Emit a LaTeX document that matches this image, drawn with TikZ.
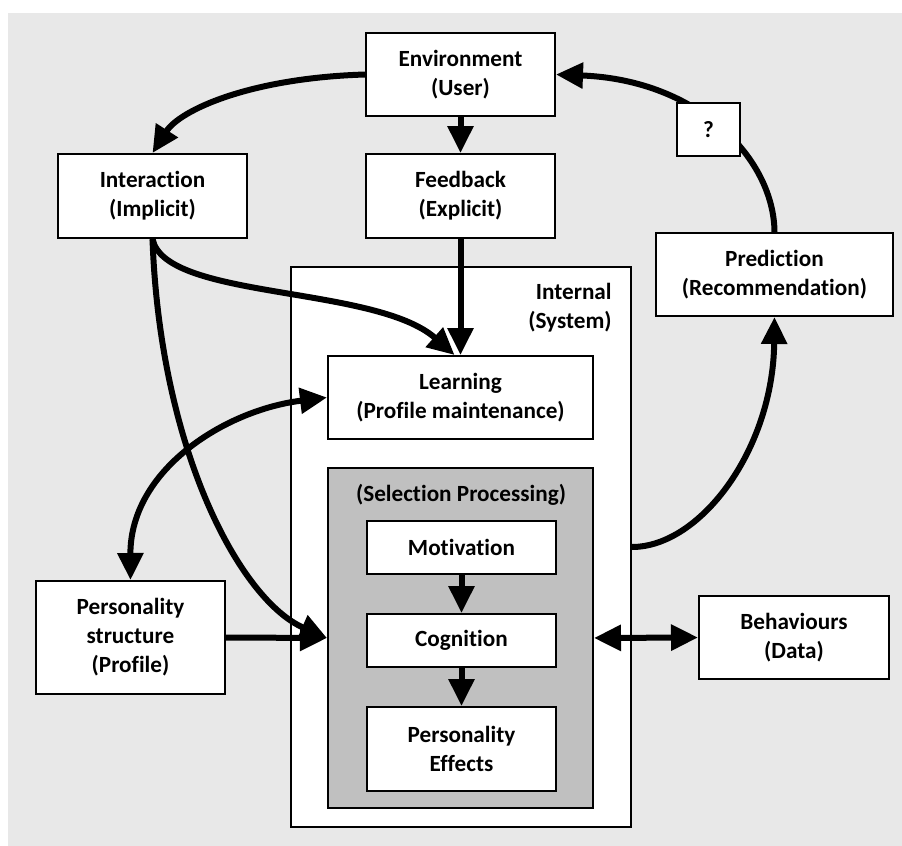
\documentclass[tikz,border=0pt]{standalone}
\usepackage{fontspec}
\setmainfont{Carlito}[Ligatures={NoCommon,NoContextual}]
\usetikzlibrary{arrows.meta}
\definecolor{panel}{HTML}{E8E8E8}
\definecolor{selgray}{HTML}{C0C0C0}
\tikzset{
  box/.style={draw=black, line width=1pt, fill=white, align=center,
    font=\fontsize{11.6}{14.5}\selectfont\bfseries, inner sep=0pt},
  link/.style={line width=3pt, -{Triangle[length=13.5pt,width=12.5pt]}},
  biglink/.style={line width=3pt, {Triangle[length=13.5pt,width=12.5pt]}-{Triangle[length=13.5pt,width=12.5pt]}},
  lbl/.style={font=\fontsize{11.6}{14.5}\selectfont\bfseries, inner sep=0pt, align=center}
}
\begin{document}
\begin{tikzpicture}[x=0.5pt,y=-0.5pt]
  \useasboundingbox (0,0) rectangle (902,846);
  \fill[white] (0,0) rectangle (902,846);
  \fill[panel] (8,13) rectangle (902,846);

  % outer system block and the selection processing block
  \node[box, line width=1pt, minimum width=170pt, minimum height=280pt] (internal) at (461,547) {};
  \node[lbl, anchor=east, align=right] (internallbl) at (612,308) {Internal\\(System)};
  \node[box, fill=selgray, minimum width=132.5pt, minimum height=170pt] (sel) at (460.5,638) {};
  \node[lbl] (sellbl) at (461,495) {(Selection Processing)};

  % boxes
  \node[box, minimum width=94.5pt, minimum height=41.5pt] (env) at (460.5,74.5) {Environment\\(User)};
  \node[box, minimum width=94.5pt, minimum height=42pt] (fb) at (460.5,196) {Feedback\\(Explicit)};
  \node[box, minimum width=94.5pt, minimum height=42pt] (inter) at (152.5,196) {Interaction\\(Implicit)};
  \node[box, minimum width=118.5pt, minimum height=41.5pt] (pred) at (774.5,274.5) {Prediction\\(Recommendation)};
  \node[box, minimum width=132.5pt, minimum height=41.5pt] (learn) at (460.5,397.5) {Learning\\(Profile maintenance)};
  \node[box, minimum width=94.5pt, minimum height=26.5pt] (motiv) at (461.5,547.5) {Motivation};
  \node[box, minimum width=94.5pt, minimum height=26.5pt] (cog) at (461.5,640.5) {Cognition};
  \node[box, minimum width=94.5pt, minimum height=42pt] (peff) at (461.5,749) {Personality\\Effects};
  \node[box, minimum width=94.5pt, minimum height=56.5pt] (pers) at (130.5,637.5) {Personality\\structure\\(Profile)};
  \node[box, minimum width=95pt, minimum height=41.5pt] (behav) at (794,637.5) {Behaviours\\(Data)};

  % connectors
  \draw[link] (env.west) .. controls (250,78) and (180,110) .. (inter.north);
  \draw[link] (env.south) -- (fb.north);
  \draw[link] (fb.south) -- (learn.north);
  \draw[link] (inter.south) .. controls (165,300) and (375,285) .. ([xshift=-3pt]learn.north);
  \draw[link] (inter.south) .. controls (160,450) and (240,600) .. (sel.west);
  \draw[link] (pers.east) -- (sel.west);
  \draw[biglink] (pers.north) .. controls (130,470) and (225,410) .. (learn.west);
  \draw[biglink] (sel.east) -- (behav.west);
  \draw[link] (internal.east) .. controls (700,547) and (773,450) .. (pred.south);
  \draw[link] (pred.north) .. controls (774,160) and (700,80) .. (env.east);
  \draw[link] (motiv.south) -- (cog.north);
  \draw[link] (cog.south) -- (peff.north);

  % the open question on the return path
  \node[box, minimum width=31.5pt, minimum height=26.5pt] (q) at (708.5,129.5) {?};
\end{tikzpicture}
\end{document}
